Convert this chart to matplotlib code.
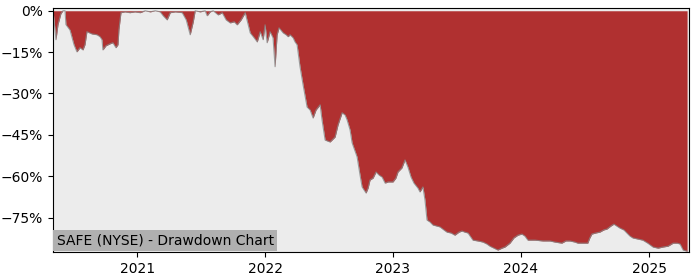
import matplotlib
matplotlib.use("Agg")
import matplotlib.pyplot as plt
import matplotlib.ticker as mticker
import matplotlib.dates as mdates
import pandas as pd
import numpy as np

# dates as decimal years, drawdown in percent
year_frac = [
    2020.344, 2020.352, 2020.367, 2020.383, 2020.406, 2020.422, 2020.438, 2020.445,
    2020.477, 2020.508, 2020.531, 2020.555, 2020.578, 2020.594, 2020.609, 2020.648,
    2020.688, 2020.711, 2020.727, 2020.734, 2020.758, 2020.789, 2020.812, 2020.836,
    2020.852, 2020.859, 2020.875, 2020.906, 2020.945, 2020.984, 2021.023, 2021.062,
    2021.102, 2021.141, 2021.180, 2021.203, 2021.234, 2021.258, 2021.297, 2021.352,
    2021.383, 2021.414, 2021.438, 2021.453, 2021.492, 2021.531, 2021.547, 2021.570,
    2021.594, 2021.633, 2021.664, 2021.695, 2021.727, 2021.758, 2021.781, 2021.812,
    2021.844, 2021.867, 2021.883, 2021.914, 2021.938, 2021.961, 2021.984, 2022.000,
    2022.016, 2022.039, 2022.062, 2022.078, 2022.094, 2022.109, 2022.141, 2022.164,
    2022.180, 2022.195, 2022.219, 2022.234, 2022.250, 2022.273, 2022.297, 2022.328,
    2022.352, 2022.375, 2022.398, 2022.430, 2022.445, 2022.469, 2022.508, 2022.547,
    2022.570, 2022.602, 2022.625, 2022.641, 2022.664, 2022.680, 2022.719, 2022.742,
    2022.758, 2022.789, 2022.805, 2022.820, 2022.844, 2022.867, 2022.891, 2022.914,
    2022.938, 2022.961, 2023.000, 2023.023, 2023.039, 2023.070, 2023.094, 2023.117,
    2023.141, 2023.164, 2023.195, 2023.211, 2023.234, 2023.250, 2023.266, 2023.289,
    2023.312, 2023.344, 2023.367, 2023.398, 2023.422, 2023.453, 2023.484, 2023.516,
    2023.539, 2023.562, 2023.586, 2023.609, 2023.625, 2023.664, 2023.703, 2023.734,
    2023.758, 2023.789, 2023.820, 2023.852, 2023.875, 2023.914, 2023.945, 2023.977,
    2024.008, 2024.031, 2024.055, 2024.109, 2024.172, 2024.227, 2024.266, 2024.320,
    2024.352, 2024.383, 2024.422, 2024.445, 2024.484, 2024.523, 2024.539, 2024.555,
    2024.586, 2024.617, 2024.648, 2024.672, 2024.703, 2024.727, 2024.750, 2024.773,
    2024.805, 2024.828, 2024.852, 2024.875, 2024.914, 2024.953, 2024.992, 2025.031,
    2025.070, 2025.109, 2025.148, 2025.188, 2025.219, 2025.242, 2025.266, 2025.297,
]
drawdown = [
    0.0, -3.3, -10.5, -5.0, -1.0, 0.0, 0.0, -5.0,
    -7.0, -12.3, -14.9, -13.4, -14.2, -12.3, -7.6, -8.4,
    -8.7, -9.4, -10.5, -14.2, -12.7, -12.0, -11.6, -13.4,
    -12.3, -6.9, -0.7, -0.4, -0.7, -0.4, -0.7, 0.0,
    -0.4, 0.0, -0.4, -1.8, -3.3, -0.7, -0.4, -0.7,
    -3.3, -8.7, -4.0, 0.0, -0.4, 0.0, -1.8, -0.4,
    0.0, -1.5, -0.7, -3.3, -4.4, -4.0, -5.1, -3.3,
    -0.7, -5.0, -8.0, -9.8, -11.3, -7.6, -10.5, -5.1,
    -11.6, -7.6, -9.8, -20.3, -8.7, -6.2, -8.0, -8.7,
    -9.4, -8.7, -9.8, -11.3, -12.3, -20.3, -26.9, -34.9,
    -36.0, -38.9, -36.0, -34.1, -39.6, -46.9, -47.6, -45.8,
    -41.4, -37.0, -37.8, -39.6, -43.2, -47.9, -53.0, -59.6,
    -63.9, -66.1, -64.3, -61.4, -60.7, -58.5, -59.6, -60.3,
    -62.5, -62.1, -62.1, -60.7, -58.5, -57.0, -54.1, -56.7,
    -60.3, -62.5, -64.3, -65.7, -63.9, -68.6, -75.9, -76.6,
    -77.7, -78.1, -78.4, -79.5, -80.3, -80.6, -81.4, -80.3,
    -79.9, -80.3, -80.6, -82.1, -83.2, -83.5, -83.9, -84.6,
    -85.4, -86.1, -86.8, -86.1, -85.7, -84.3, -82.4, -81.4,
    -81.0, -81.7, -83.2, -83.2, -83.5, -83.5, -83.9, -84.3,
    -83.5, -83.5, -83.9, -84.3, -84.3, -84.3, -82.4, -81.0,
    -80.6, -80.3, -79.5, -79.2, -78.1, -77.4, -78.1, -78.8,
    -79.5, -80.6, -81.7, -82.4, -82.8, -83.2, -84.3, -85.7,
    -86.1, -85.7, -85.4, -84.3, -84.3, -84.6, -86.8, -87.2,
]
x_range = [2020.344, 2025.312]
y_range = [-87.5, 1.0]
y_ticks = [0, -15, -30, -45, -60, -75]
label = "SAFE (NYSE) - Drawdown Chart"


def to_dt(v):
    y = int(np.floor(v))
    return pd.Timestamp(year=y, month=1, day=1) + pd.Timedelta(days=(v - y) * 365.25)


dates = [to_dt(v) for v in year_frac]

fig = plt.figure(figsize=(7, 2.8), dpi=100)
ax = fig.add_axes([53 / 700, 28 / 280, 636 / 700, 244 / 280])
ax.set_facecolor("#ececec")
ax.fill_between(dates, drawdown, 0, color="#b03030", linewidth=0)
ax.plot(dates, drawdown, color="#888888", linewidth=0.8, alpha=0.8)
ax.set_xlim(to_dt(x_range[0]), to_dt(x_range[1]))
ax.set_ylim(*y_range)
ax.set_yticks(y_ticks)
ax.yaxis.set_major_formatter(
    mticker.FuncFormatter(lambda v, p: f"{v:.0f}%".replace("-", "\u2212")))
ax.xaxis.set_major_locator(mdates.YearLocator())
ax.xaxis.set_major_formatter(mdates.DateFormatter("%Y"))
ax.tick_params(labelsize=10)
ax.annotate(label, xy=(0, 0), xycoords="axes fraction",
            xytext=(2.6, 3.2), textcoords="offset points", fontsize=10,
            ha="left", va="bottom",
            bbox=dict(facecolor="#b0b0b0", edgecolor="none", pad=2.6))
fig.savefig("out.png", dpi=100)
